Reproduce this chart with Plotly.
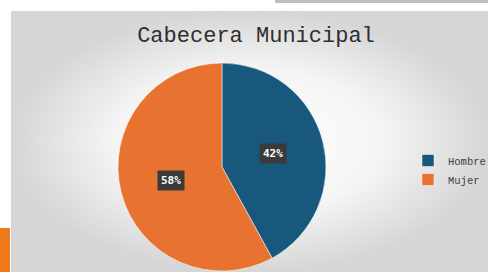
import math
import plotly.graph_objects as go

# ---- data ----
categories = ["Hombre", "Mujer"]
values = [42, 58]
colors = ["#17587c", "#e8722f"]
title_text = "Cabecera Municipal"

W, H = 488, 272
# pie geometry in pixels
cx, cy, R = 222, 167, 104

fig = go.Figure()

# gradient panel background (radial)
fig.add_trace(go.Scatter(
    x=[11, 488, 488, 11, 11], y=[11, 11, 272, 272, 11],
    mode="lines", line=dict(width=0), fill="toself",
    fillgradient=dict(type="radial",
                      colorscale=[[0, "#ffffff"], [0.55, "#f5f5f5"], [1, "#d6d6d6"]]),
    hoverinfo="skip", showlegend=False,
))

fig.add_trace(go.Pie(
    labels=categories, values=values, sort=False, direction="clockwise",
    rotation=0, marker=dict(colors=colors, line=dict(color="#ffffff", width=0.5)),
    textinfo="none", hoverinfo="label+percent",
    domain=dict(x=[(cx - R) / W, (cx + R) / W], y=[1 - (cy + R) / H, 1 - (cy - R) / H]),
))

# label boxes at slice mid-angles
total = sum(values)
cum = 0
annotations = []
for v in values:
    frac_mid = (cum + v / 2) / total
    cum += v
    ang = 2 * math.pi * frac_mid
    r = 0.51 * R
    px = cx + r * math.sin(ang)
    py = cy - r * math.cos(ang)
    annotations.append(dict(
        x=px / W, y=1 - py / H, xref="paper", yref="paper",
        text="<b>%d%%</b>" % round(100 * v / total), showarrow=False,
        font=dict(family="DejaVu Sans Mono, monospace", size=11, color="#ffffff"),
        bgcolor="#3a3a3a", borderpad=3,
    ))

fig.update_layout(
    width=W, height=H,
    margin=dict(l=0, r=0, t=0, b=0, autoexpand=False),
    paper_bgcolor="#ffffff", plot_bgcolor="rgba(0,0,0,0)",
    xaxis=dict(range=[0, W], visible=False, fixedrange=True, domain=[0, 1]),
    yaxis=dict(range=[H, 0], visible=False, fixedrange=True, domain=[0, 1]),
    title=dict(text=title_text, x=256 / W, y=1 - 34 / H, xanchor="center", yanchor="middle",
               font=dict(family="Liberation Mono, Courier New, monospace", size=22, color="#2e2e2e")),
    legend=dict(x=408 / W, y=1 - 146 / H, xanchor="left", yanchor="top",
                bgcolor="rgba(0,0,0,0)", itemwidth=30,
                font=dict(family="Liberation Mono, Courier New, monospace", size=10.5, color="#404040")),
    annotations=annotations,
    shapes=[
        dict(type="rect", xref="paper", yref="paper", x0=275 / W, x1=1, y0=1 - 3 / H, y1=1,
             fillcolor="#bdbdbd", line=dict(width=0), layer="below"),
        dict(type="rect", xref="paper", yref="paper", x0=0, x1=10 / W, y0=0, y1=1 - 228 / H,
             fillcolor="#f07a1a", line=dict(width=0), layer="below"),
    ],
)

fig.write_html("out.html", config={"displayModeBar": False},
               post_script="document.body.style.margin='0';document.body.style.overflow='hidden';")
